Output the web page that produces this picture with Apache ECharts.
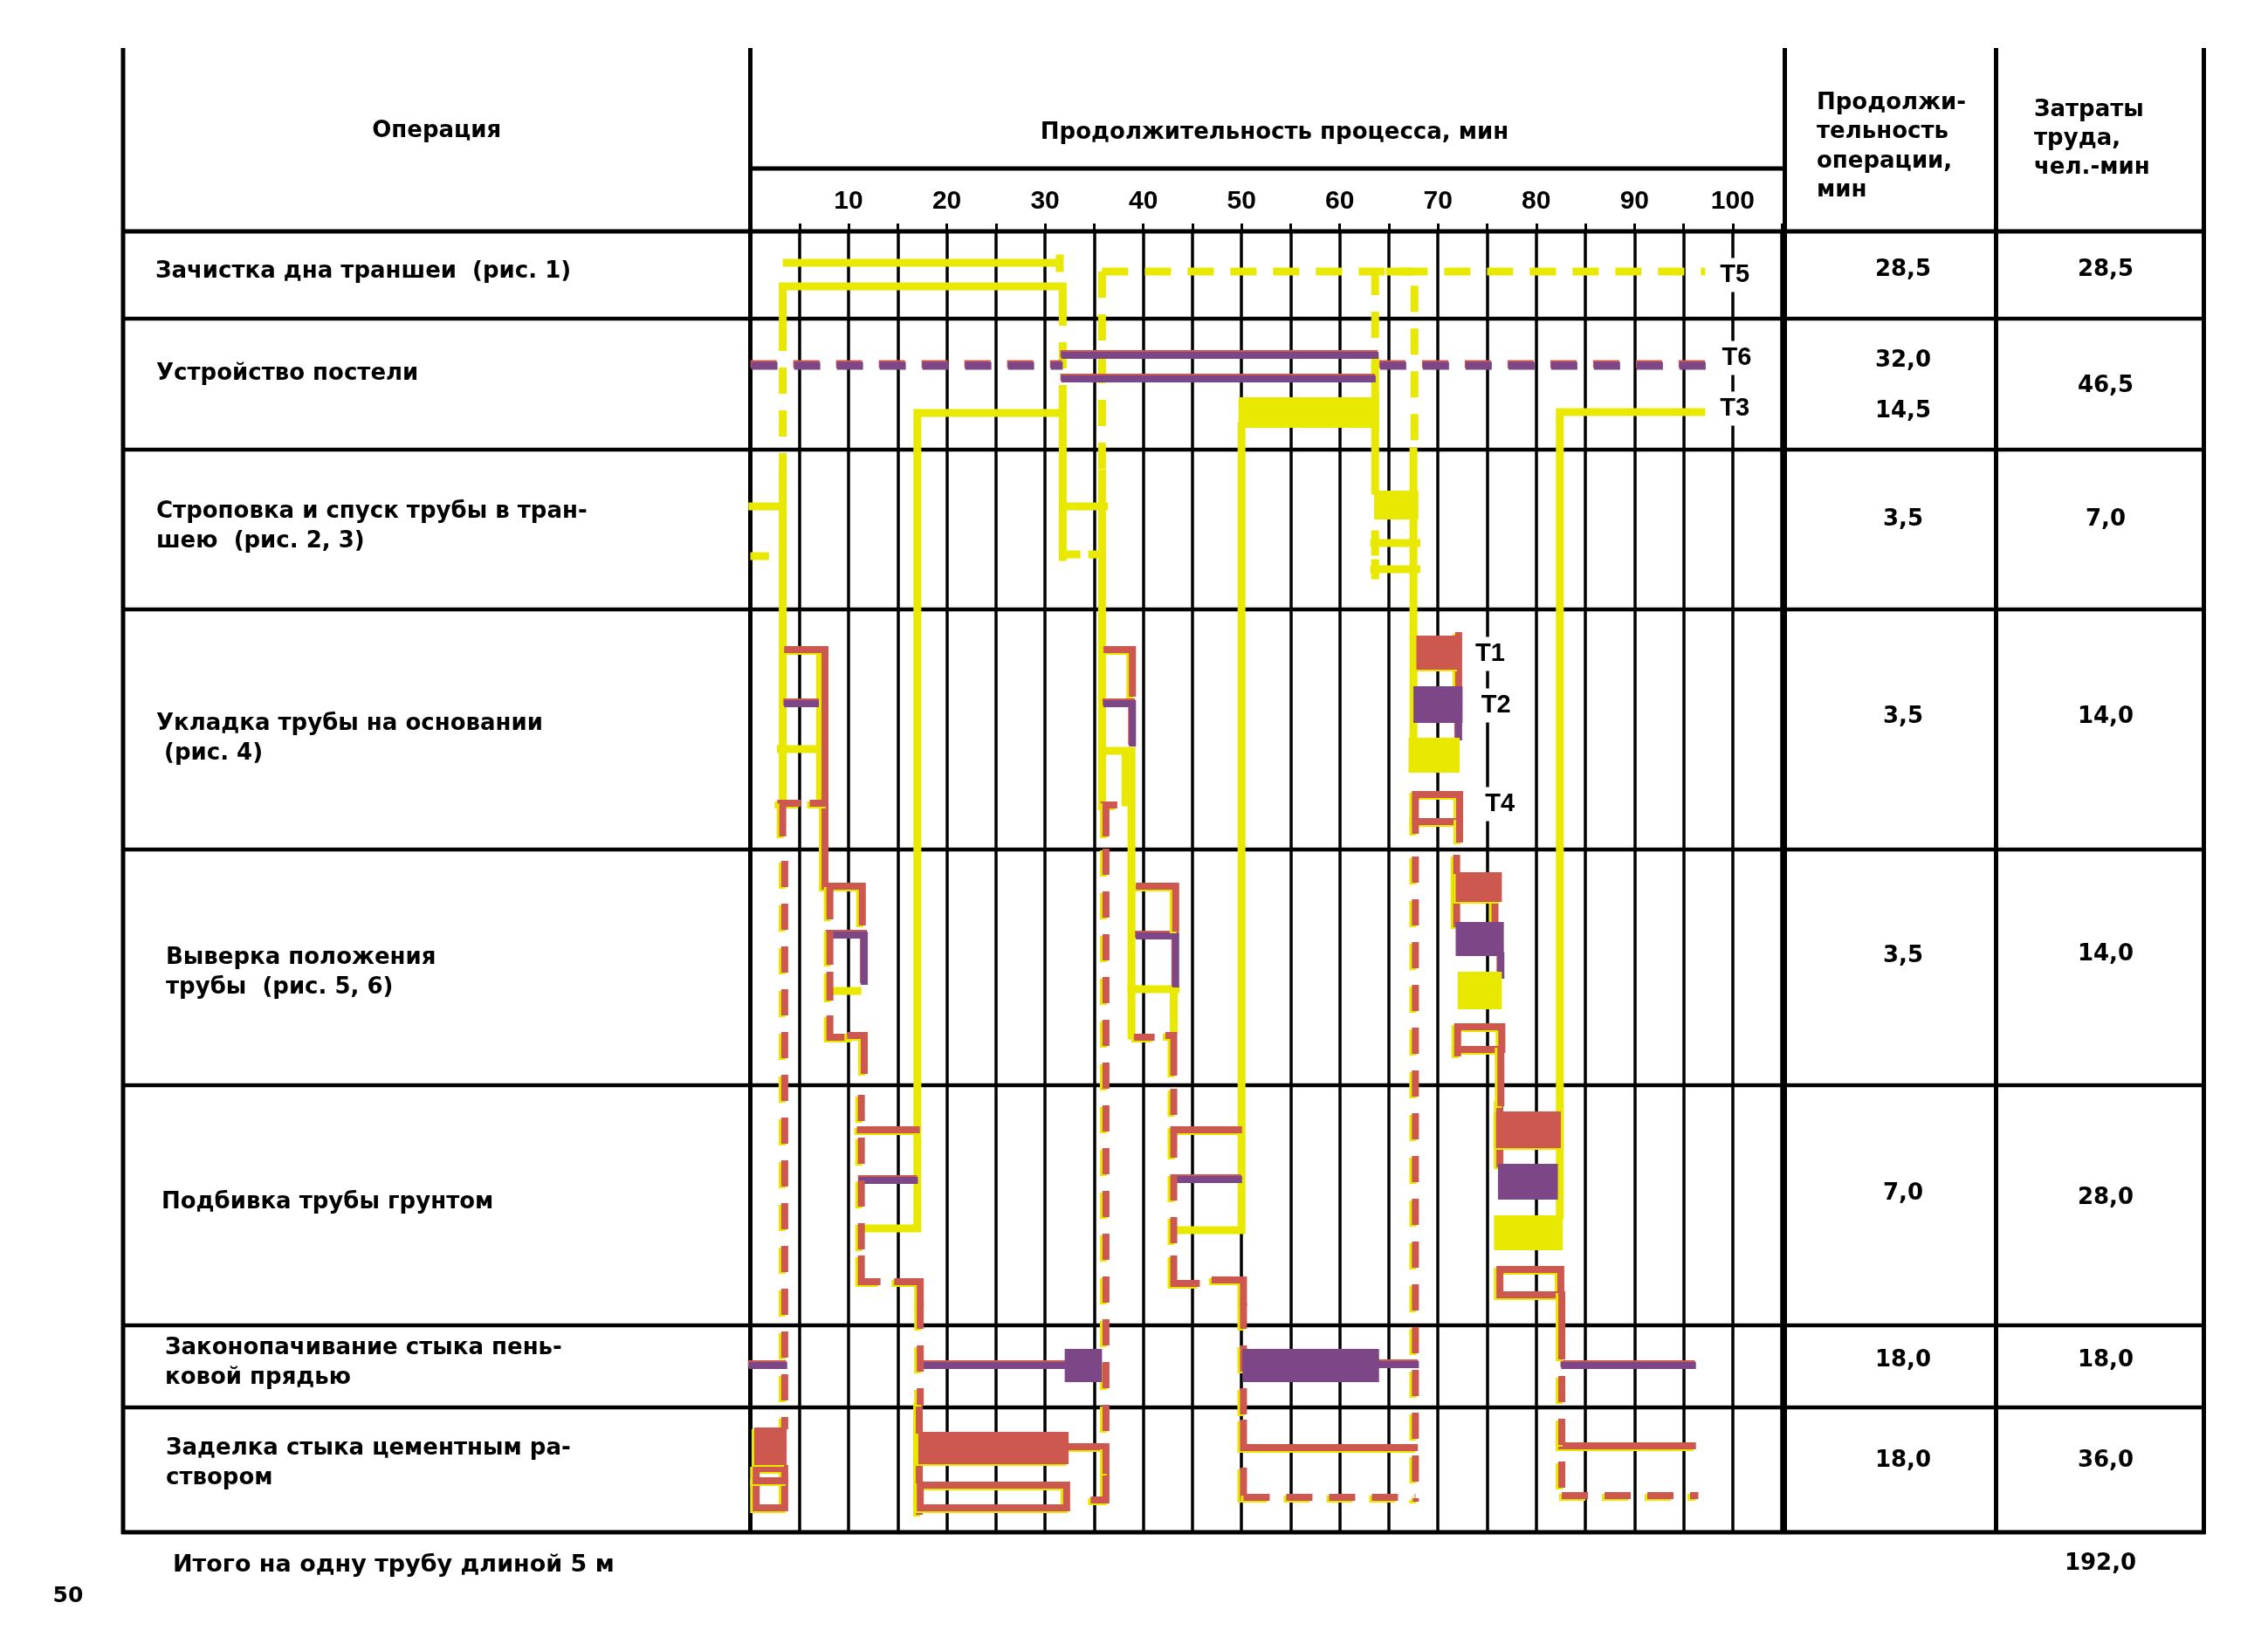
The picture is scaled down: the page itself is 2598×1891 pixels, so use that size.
<!DOCTYPE html>
<html>
<head>
<meta charset="utf-8">
<script src="https://cdn.jsdelivr.net/npm/echarts/dist/echarts.min.js"></script>
<style>
html,body{margin:0;padding:0;background:#fff;}
#c{width:2598px;height:1891px;}
</style>
</head>
<body>
<div id="c"></div>
<script>
// ---------------- DATA ----------------
// x: minutes; y: position inside the table body (table units, 0 = top of first row)
const xTicks = [10, 20, 30, 40, 50, 60, 70, 80, 90, 100];
const rowEdges = [0, 100, 250, 433, 708, 978, 1253, 1347, 1490];

const operations = [
  ['Зачистка дна траншеи  (рис. 1)'],
  ['Устройство постели'],
  ['Строповка и спуск трубы в тран-', 'шею  (рис. 2, 3)'],
  ['Укладка трубы на основании', ' (рис. 4)'],
  ['Выверка положения', 'трубы  (рис. 5, 6)'],
  ['Подбивка трубы грунтом'],
  ['Законопачивание стыка пень-', 'ковой прядью'],
  ['Заделка стыка цементным ра-', 'створом']
];
const durations = [['28,5'], ['32,0', '14,5'], ['3,5'], ['3,5'], ['3,5'], ['7,0'], ['18,0'], ['18,0']];
const labor = ['28,5', '46,5', '7,0', '14,0', '14,0', '28,0', '18,0', '36,0'];
const totalLabor = '192,0';
const totalText = 'Итого на одну трубу длиной 5 м';
const headOperation = 'Операция';
const headProcess = 'Продолжительность процесса, мин';
const headDuration = ['Продолжи-', 'тельность', 'операции,', 'мин'];
const headLabor = ['Затраты', 'труда,', 'чел.-мин'];
const pageNumber = '50';

// worker paths (polylines) [minute, tableUnit]
const yellowSolid = [
  [[3.7, 36], [31.0, 36]],
  [[31.5, 31], [31.5, 42]],
  [[31.8, 78], [31.8, 63], [3.3, 63], [3.3, 107]],
  [[3.3, 283], [3.3, 650]],
  [[31.8, 373], [31.8, 208], [17.0, 208], [17.0, 1142], [11.4, 1142]],
  [[31.8, 315], [36.0, 315]],
  [[31.8, 370], [33.2, 370]],
  [[34.8, 370], [35.8, 370]],
  [[0.2, 315], [3.3, 315]],
  [[0.4, 372], [1.5, 372]],
  [[35.8, 277], [35.8, 657]],
  [[50.0, 223], [50.0, 1144], [43.5, 1144]],
  [[63.6, 157], [63.6, 297]],
  [[67.5, 252], [67.5, 580]],
  [[96.8, 207], [82.4, 207], [82.4, 1127]],
  [[3.1, 593], [7.1, 593]],
  [[7.1, 484], [7.1, 654]],
  [[35.8, 595], [38.8, 595], [38.8, 921]],
  [[38.2, 600], [38.2, 654]],
  [[38.8, 868], [43.3, 868]],
  [[43.1, 868], [43.1, 914]],
  [[8.3, 870], [10.9, 870]],
  [[63.5, 357], [67.8, 357]],
  [[63.5, 387], [67.8, 387]],
  [[63.6, 347], [63.6, 367]],
  [[63.6, 380], [63.6, 394]]
];
const yellowDashed = [
  [[35.8, 46], [35.8, 277]],
  [[35.8, 46], [97.2, 46]],
  [[3.3, 107], [3.3, 283]],
  [[31.8, 78], [31.8, 208]],
  [[63.6, 43], [63.6, 157]],
  [[64.7, 46], [67.6, 46], [67.6, 252]]
];
const purpleSolid = [
  [[32.0, 142], [63.6, 142]],
  [[32.0, 169], [63.3, 169]],
  [[3.8, 541], [7.3, 541]],
  [[36.3, 541], [38.9, 541], [38.9, 586]],
  [[8.1, 806], [11.6, 806], [11.6, 859]],
  [[39.6, 807], [43.3, 807], [43.3, 862]],
  [[11.4, 1087], [16.7, 1087]],
  [[43.6, 1086], [49.7, 1086]],
  [[0.2, 1299], [3.4, 1299]],
  [[17.3, 1299], [32.0, 1299]],
  [[63.9, 1298], [67.7, 1298]],
  [[82.9, 1299], [95.9, 1299]],
  [[72.1, 563], [72.1, 579]],
  [[76.4, 830], [76.4, 852]]
];
const purpleDashed = [
  [[0.1, 154], [31.8, 154]],
  [[64.1, 154], [97.4, 154]]
];
const redSolid = [
  [[3.8, 479], [7.6, 479], [7.6, 750], [11.4, 750], [11.4, 791]],
  [[8.1, 753], [8.1, 784]],
  [[6.4, 655], [7.6, 655]],
  [[3.1, 655], [4.8, 655]],
  [[3.3, 657], [3.3, 689]],
  [[36.3, 479], [38.9, 479], [38.9, 529]],
  [[36.0, 657], [37.0, 657]],
  [[36.2, 657], [36.2, 689]],
  [[8.1, 804], [8.1, 836]],
  [[8.1, 852], [8.1, 877]],
  [[8.1, 902], [8.1, 923], [10.2, 923]],
  [[10.2, 921], [11.6, 921], [11.6, 961]],
  [[39.6, 750], [43.3, 750], [43.3, 798]],
  [[39.4, 923], [40.8, 923]],
  [[42.6, 921], [43.1, 921], [43.1, 963]],
  [[11.2, 1029], [16.9, 1029]],
  [[11.3, 1177], [11.3, 1203], [12.9, 1203]],
  [[15.0, 1203], [17.3, 1203], [17.3, 1227]],
  [[43.1, 1029], [49.7, 1029]],
  [[43.1, 1177], [43.1, 1205], [45.4, 1205]],
  [[47.3, 1201], [50.2, 1201], [50.2, 1227]],
  [[17.2, 1344], [17.2, 1466]],
  [[17.3, 1436], [32.2, 1436], [32.2, 1462], [17.3, 1462], [17.3, 1436]],
  [[32.4, 1392], [36.2, 1392]],
  [[36.2, 1427], [36.2, 1453], [35.0, 1453]],
  [[0.6, 1417], [3.5, 1417], [3.5, 1462], [0.6, 1462], [0.6, 1417]],
  [[0.6, 1431], [3.5, 1431]],
  [[50.2, 1365], [50.2, 1393], [67.6, 1393]],
  [[50.2, 1420], [50.2, 1450]],
  [[82.6, 1391], [95.9, 1391]],
  [[72.1, 463], [72.1, 522]],
  [[71.9, 718], [71.9, 793]],
  [[75.8, 768], [75.8, 791]],
  [[76.3, 998], [76.3, 1068]],
  [[67.7, 645], [72.2, 645], [72.2, 676], [67.7, 676], [67.7, 645]],
  [[67.7, 676], [67.7, 686]],
  [[72.2, 676], [72.2, 696]],
  [[72.0, 911], [76.5, 911], [76.5, 937], [72.0, 937], [72.0, 911]],
  [[72.0, 937], [72.0, 941]],
  [[76.4, 937], [76.4, 998]],
  [[76.3, 1189], [82.5, 1189], [82.5, 1218], [76.3, 1218], [76.3, 1189]],
  [[82.6, 1218], [82.6, 1262]]
];
const redDashed = [
  [[3.5, 721], [3.5, 1372]],
  [[36.2, 707], [36.2, 1427]],
  [[67.7, 716], [67.7, 1455]],
  [[82.6, 1262], [82.6, 1448]],
  [[11.3, 989], [11.3, 1177]],
  [[17.3, 1227], [17.3, 1344]],
  [[43.1, 982], [43.1, 1177]],
  [[50.2, 1227], [50.2, 1365]],
  [[50.2, 1450], [67.7, 1450]],
  [[82.6, 1448], [96.5, 1448]]
];
// work blocks [startMin, endMin, top, bottom]
const yellowBlocks = [
  [49.7, 64.0, 190, 225],
  [63.5, 68.0, 297, 330],
  [67.0, 72.2, 580, 620],
  [72.0, 76.5, 848, 891],
  [75.7, 82.7, 1127, 1167]
];
const purpleBlocks = [
  [67.5, 72.5, 521, 563],
  [71.8, 76.7, 791, 830],
  [76.1, 82.2, 1068, 1109],
  [32.0, 35.8, 1280, 1318],
  [50.1, 64.0, 1280, 1318]
];
const redBlocks = [
  [67.8, 72.2, 463, 502],
  [71.8, 76.5, 734, 768],
  [75.9, 82.5, 1008, 1050],
  [17.1, 32.4, 1375, 1412],
  [0.4, 3.7, 1370, 1413]
];
const workerNames = ['Т5', 'Т6', 'Т3', 'Т1', 'Т2', 'Т4'];
const workerLabelAt = [[100.2, 50], [100.4, 145], [100.2, 203], [75.3, 484], [75.9, 543], [76.3, 656]];

// ---------------- STYLE / LAYOUT ----------------
const RED = '#cd5850', PURPLE = '#7d4686', YELLOW = '#e8e800';
const TXT = '"DejaVu Sans", sans-serif';
const NUMF = '"Liberation Sans", Arial, sans-serif';
const L = { left: 141, opDiv: 859.5, chartRight: 2044.5, durDiv: 2286.5, right: 2524.5, headTop: 55, headMid: 193 };
const opPos = [[178, 311], [179, 428], [179, 586], [179, 829], [190, 1097], [185, 1377], [189, 1544], [190, 1659]];
const lineGap = 34;
const durPos = [[309], [413, 471], [595], [821], [1095], [1367], [1558], [1673]];
const laborPos = [309, 442, 595, 821, 1093, 1372, 1558, 1673];
// misregistration fringes of the printed inks
const fringe = { shadowColor: YELLOW, shadowBlur: 0, shadowOffsetX: -3, shadowOffsetY: 2 };
const fringeP = { shadowColor: RED, shadowBlur: 0, shadowOffsetX: -1, shadowOffsetY: -2 };

function linesSeries(data, color, dashed, z, w, extra) {
  return {
    type: 'lines', coordinateSystem: 'cartesian2d', polyline: true, silent: true, z: z,
    data: data.map(c => ({ coords: c })),
    lineStyle: Object.assign({ color: color, width: w || 8, opacity: 1, curveness: 0,
      type: dashed ? [30, 19] : 'solid', cap: dashed ? 'butt' : 'square', join: 'miter' }, extra || {})
  };
}
function blockSeries(data, color, z, extra) {
  return {
    type: 'custom', silent: true, z: z, data: data,
    encode: { x: [0, 1], y: [2, 3] },
    renderItem: function (p, api) {
      const a = api.coord([api.value(0), api.value(2)]);
      const b = api.coord([api.value(1), api.value(3)]);
      return { type: 'rect', shape: { x: Math.min(a[0], b[0]), y: Math.min(a[1], b[1]),
        width: Math.abs(b[0] - a[0]), height: Math.abs(b[1] - a[1]) },
        style: Object.assign({ fill: color }, extra || {}) };
    }
  };
}

const chart = echarts.init(document.getElementById('c'), null, { renderer: 'canvas', width: 2598, height: 1891 });
chart.setOption({
  animation: false,
  backgroundColor: '#ffffff',
  grid: { left: L.opDiv, top: 265, width: L.chartRight - L.opDiv, height: 1490, outerBoundsMode: 'none', containLabel: false },
  xAxis: {
    type: 'value', min: 0, max: 105.3, interval: 5, position: 'top',
    axisLine: { show: false },
    axisTick: { show: true, inside: false, length: 9, lineStyle: { color: '#000', width: 3 } },
    axisLabel: { show: true, margin: 19, color: '#000', fontSize: 30, fontWeight: 'bold',
      fontFamily: NUMF, hideOverlap: false,
      formatter: v => (xTicks.indexOf(v) >= 0 ? String(v) : '') },
    splitLine: { show: true, lineStyle: { color: '#000', width: 3.5 } }
  },
  yAxis: { type: 'value', inverse: true, min: 0, max: 1490, show: false },
  series: [
    linesSeries(yellowSolid, YELLOW, false, 3, 9),
    linesSeries(yellowDashed, YELLOW, true, 3, 9),
    linesSeries(purpleSolid, PURPLE, false, 4, 8, fringeP),
    linesSeries(purpleDashed, PURPLE, true, 4, 9, fringeP),
    linesSeries(redSolid, RED, false, 5, 8, fringe),
    linesSeries(redDashed, RED, true, 5, 8, fringe),
    blockSeries(yellowBlocks, YELLOW, 6),
    blockSeries(purpleBlocks, PURPLE, 6),
    blockSeries(redBlocks, RED, 6, fringe),
    {
      type: 'custom', silent: true, z: 10,
      data: workerNames.map((n, i) => [workerLabelAt[i][0], workerLabelAt[i][1], i]),
      encode: { x: 0, y: 1 },
      renderItem: function (p, api) {
        const c = api.coord([api.value(0), api.value(1)]);
        return { type: 'text', style: { text: workerNames[api.value(2)], x: c[0], y: c[1],
          fill: '#000', font: 'bold 29px ' + NUMF, align: 'center', verticalAlign: 'middle',
          backgroundColor: '#fff', padding: [5, 4] } };
      }
    }
  ]
});

// ---------------- TABLE (through the y scale) ----------------
const yPx = u => chart.convertToPixel({ gridIndex: 0 }, [0, u])[1];
const g = [];
function hline(x1, x2, y, w) { g.push({ type: 'line', z: 1, silent: true, shape: { x1: x1, y1: y, x2: x2, y2: y }, style: { stroke: '#000', lineWidth: w } }); }
function vline(x, y1, y2, w) { g.push({ type: 'line', z: 1, silent: true, shape: { x1: x, y1: y1, x2: x, y2: y2 }, style: { stroke: '#000', lineWidth: w } }); }
function text(t, x, y, size, align, fam) {
  g.push({ type: 'text', z: 2, silent: true, style: { text: t, x: x, y: y, fill: '#000',
    font: 'bold ' + size + 'px ' + (fam || TXT), textAlign: align || 'left', textVerticalAlign: 'middle' } });
}
const yBot = yPx(rowEdges[rowEdges.length - 1]);
rowEdges.forEach((e, i) => hline(L.left - 2, L.right + 2, yPx(e), (i === 0 || i === rowEdges.length - 1) ? 5 : 4.5));
hline(L.opDiv, L.chartRight, L.headMid, 5);
[L.left, L.opDiv, L.chartRight, L.durDiv, L.right].forEach(x => vline(x, L.headTop, yBot + 2, 5));

text(headOperation, (L.left + L.opDiv) / 2, 150, 26, 'center');
text(headProcess, 1460, 152, 26, 'center');
headDuration.forEach((t, i) => text(t, 2081, 118 + i * 33.5, 26, 'left'));
headLabor.forEach((t, i) => text(t, 2330, 126 + i * 33, 26, 'left'));

operations.forEach((lines, i) => lines.forEach((t, j) => text(t, opPos[i][0], opPos[i][1] + j * lineGap, 26, 'left')));
durations.forEach((vals, i) => vals.forEach((t, j) => text(t, 2180, durPos[i][j], 26, 'center')));
labor.forEach((t, i) => text(t, 2412, laborPos[i], 26, 'center'));
text(totalText, 198, 1793, 27, 'left');
text(totalLabor, 2406, 1791, 26, 'center');
text(pageNumber, 78, 1828, 25, 'center');

chart.setOption({ graphic: { elements: g } });
</script>
</body>
</html>
